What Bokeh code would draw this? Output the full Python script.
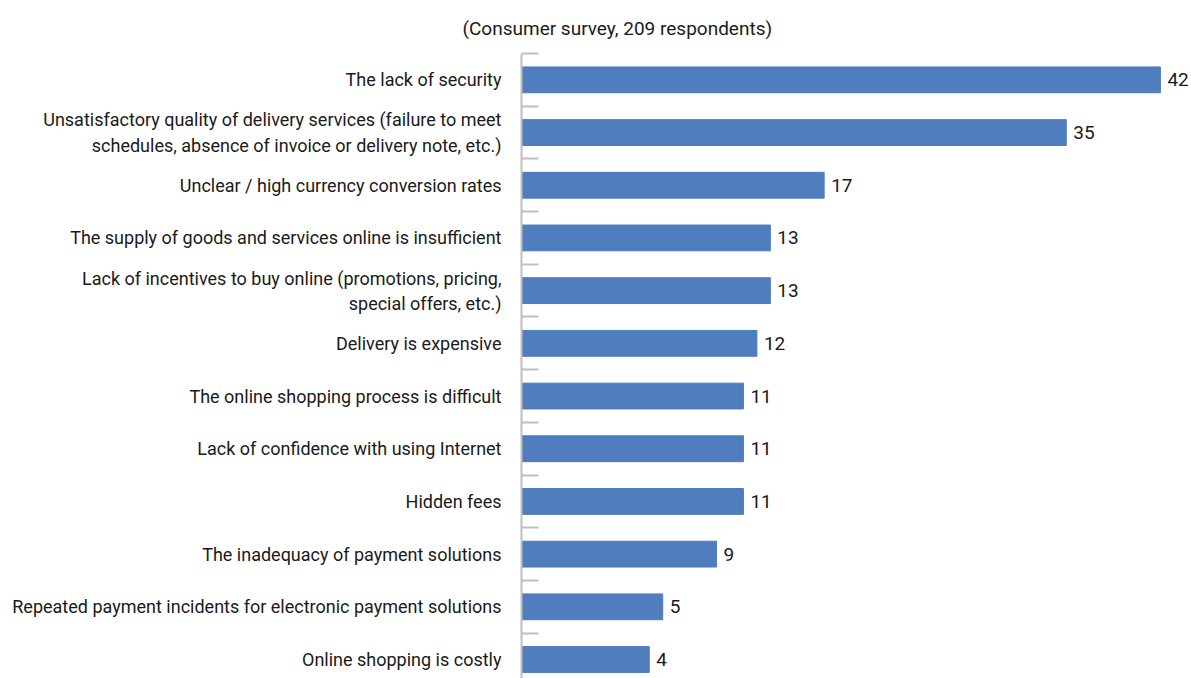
from bokeh.plotting import figure
from bokeh.models import Range1d, FixedTicker, ColumnDataSource, LinearAxis, Title
from bokeh.core.properties import value
from bokeh.embed import file_html
from bokeh.resources import INLINE

categories = [
    "The lack of security",
    "Unsatisfactory quality of delivery services (failure to meet\nschedules, absence of invoice or delivery note, etc.)",
    "Unclear / high currency conversion rates",
    "The supply of goods and services online is insufficient",
    "Lack of incentives to buy online (promotions, pricing,\nspecial offers, etc.)",
    "Delivery is expensive",
    "The online shopping process is difficult",
    "Lack of confidence with using Internet",
    "Hidden fees",
    "The inadequacy of payment solutions",
    "Repeated payment incidents for electronic payment solutions",
    "Online shopping is costly",
]
values = [42, 35, 17, 13, 13, 12, 11, 11, 11, 9, 5, 4]
title_text = "(Consumer survey, 209 respondents)"

FONT = "Roboto"
TXT = "#1a1a1a"
GRAY = "#BFBFBF"
n = len(categories)
pos = [n - 1 - i for i in range(n)]
base = -5.5                      # where the bars start (value axis origin)
y_bottom, y_top = -0.36, n - 0.5

src = ColumnDataSource(dict(y=pos, v=values, lab=[str(v) for v in values],
                            left=[base] * n))

p = figure(width=1191, height=678, output_backend="svg", toolbar_location=None,
           x_range=Range1d(base, 44.31), y_range=Range1d(y_bottom, y_top),
           x_axis_location=None, y_axis_location=None,
           min_border_left=521, min_border_top=53, min_border_right=0, min_border_bottom=0)
p.outline_line_color = None
p.xgrid.visible = False
p.ygrid.visible = False

ax = LinearAxis(ticker=FixedTicker(ticks=pos, minor_ticks=[k - 0.5 for k in range(n + 1)]))
ax.major_label_overrides = {k: categories[i] for i, k in enumerate(pos)}
ax.major_tick_line_color = None
ax.major_tick_in = 0
ax.major_tick_out = 0
ax.minor_tick_in = 17
ax.minor_tick_out = 0
ax.minor_tick_line_color = GRAY
ax.minor_tick_line_width = 2
ax.axis_line_color = GRAY
ax.axis_line_width = 2
ax.major_label_standoff = 20
ax.major_label_text_font = FONT
ax.major_label_text_font_size = "18px"
ax.major_label_text_color = TXT
p.add_layout(ax, "left")

p.hbar(y="y", left="left", right="v", height=0.49, color="#4F7DBD", source=src)
p.text(x="v", y="y", text="lab", x_offset=7, text_baseline="middle", text_align="left",
       text_font=value(FONT), text_font_size="19px", text_color=TXT, source=src)

p.add_layout(Title(text=title_text, align="left", offset=-59, standoff=28,
                   text_font=FONT, text_font_size="19px", text_font_style="normal",
                   text_color=TXT), "above")

open("out.html", "w").write(file_html(p, INLINE))
